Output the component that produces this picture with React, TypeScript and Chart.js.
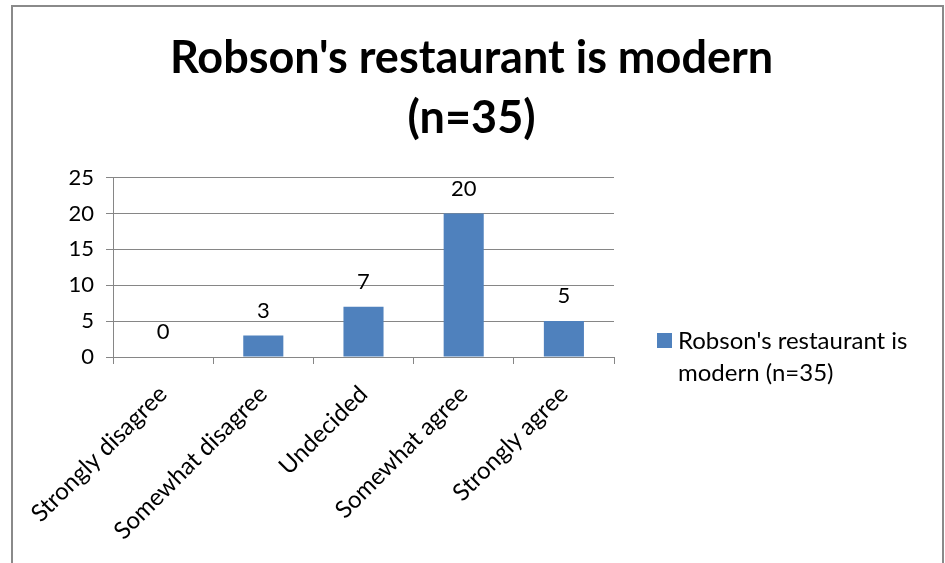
import React, { useEffect, useRef } from "react";
import { Chart, registerables } from "chart.js";

Chart.register(...registerables);

const categories = ["Strongly disagree", "Somewhat disagree", "Undecided", "Somewhat agree", "Strongly agree"];
const values = [0, 3, 7, 20, 5];
const seriesLabel = "Robson's restaurant is modern (n=35)";
const titleLines = ["Robson's restaurant is modern", "(n=35)"];
const yTicks = [0, 5, 10, 15, 20, 25];

const FONT = "Lato, 'Open Sans', sans-serif";
const BAR = "#4F81BD";
const GRID = "#868686";

const framePlugin = {
  id: "frame",
  beforeDraw(chart: any) {
    const ctx = chart.ctx;
    ctx.save();
    ctx.fillStyle = "#ffffff";
    ctx.fillRect(0, 0, chart.width, chart.height);
    ctx.strokeStyle = "#8a8a8a";
    ctx.lineWidth = 2;
    ctx.strokeRect(12, 6, chart.width - 14, chart.height + 20);
    ctx.restore();
  },
};

const valueLabelPlugin = {
  id: "valueLabels",
  afterDatasetsDraw(chart: any) {
    const ctx = chart.ctx;
    ctx.save();
    ctx.font = `22px ${FONT}`;
    ctx.fillStyle = "#000";
    ctx.textAlign = "center";
    ctx.textBaseline = "middle";
    chart.data.datasets.forEach((ds: any, di: number) => {
      const meta = chart.getDatasetMeta(di);
      meta.data.forEach((el: any, i: number) => {
        ctx.fillText(String(ds.data[i]), el.x, el.y - 25);
      });
    });
    ctx.restore();
  },
};

const sideLegendPlugin = {
  id: "sideLegend",
  afterDraw(chart: any) {
    const ctx = chart.ctx;
    const area = chart.chartArea;
    ctx.save();
    ctx.font = `24px ${FONT}`;
    chart.data.datasets.forEach((ds: any) => {
      const x = area.right + 43;
      const top = area.bottom - 24;
      ctx.fillStyle = ds.backgroundColor;
      ctx.fillRect(x, top, 15, 15);
      const words = String(ds.label).split(" ");
      const lines: string[] = [];
      let cur = "";
      const maxW = 250;
      words.forEach((w) => {
        const t = cur ? cur + " " + w : w;
        if (ctx.measureText(t).width > maxW && cur) {
          lines.push(cur);
          cur = w;
        } else cur = t;
      });
      if (cur) lines.push(cur);
      ctx.fillStyle = "#000";
      ctx.textBaseline = "middle";
      ctx.textAlign = "left";
      lines.forEach((l, i) => ctx.fillText(l, x + 21, top + 8 + i * 32));
    });
    ctx.restore();
  },
};

export default function App() {
  const ref = useRef<HTMLCanvasElement>(null);
  useEffect(() => {
    document.body.style.margin = "0";
    const chart = new Chart(ref.current!, {
      type: "bar",
      data: {
        labels: categories,
        datasets: [
          {
            label: seriesLabel,
            data: values,
            backgroundColor: BAR,
            categoryPercentage: 0.8,
            barPercentage: 0.5,
          },
        ],
      },
      options: {
        animation: false,
        responsive: false,
        layout: { padding: { left: 0, right: 2, top: 6, bottom: 0 } },
        plugins: {
          legend: { display: false },
          tooltip: { enabled: false },
          title: {
            display: true,
            text: titleLines,
            color: "#000",
            font: { family: FONT, size: 45, weight: "bold", lineHeight: 1.34 },
            padding: { top: 22, bottom: 29 },
          },
        },
        scales: {
          x: {
            offset: true,
            grid: { display: true, drawOnChartArea: false, drawTicks: true, tickLength: 7, color: GRID, offset: true },
            border: { display: true, color: GRID, width: 1 },
            ticks: {
              color: "#000",
              font: { family: FONT, size: 24 },
              minRotation: 45,
              maxRotation: 45,
              autoSkip: false,
              padding: 16,
            },
            afterFit(scale: any) {
              scale.height = 206;
            },
          },
          y: {
            min: 0,
            max: 25,
            afterBuildTicks(scale: any) {
              scale.ticks = yTicks.map((v) => ({ value: v }));
            },
            grid: { color: GRID, tickLength: 7, drawTicks: true },
            border: { display: true, color: GRID, width: 1 },
            ticks: { color: "#000", font: { family: FONT, size: 22 }, padding: 12 },
            afterFit(scale: any) {
              scale.width = 113;
            },
          },
          side: {
            type: "linear",
            position: "right",
            display: true,
            grid: { display: false },
            border: { display: false },
            ticks: { display: false },
            afterFit(scale: any) {
              scale.width = 329;
            },
          },
        },
      },
      plugins: [framePlugin, valueLabelPlugin, sideLegendPlugin],
    } as any);
    return () => chart.destroy();
  }, []);
  return <canvas ref={ref} width={945} height={563} style={{ display: "block" }} />;
}
